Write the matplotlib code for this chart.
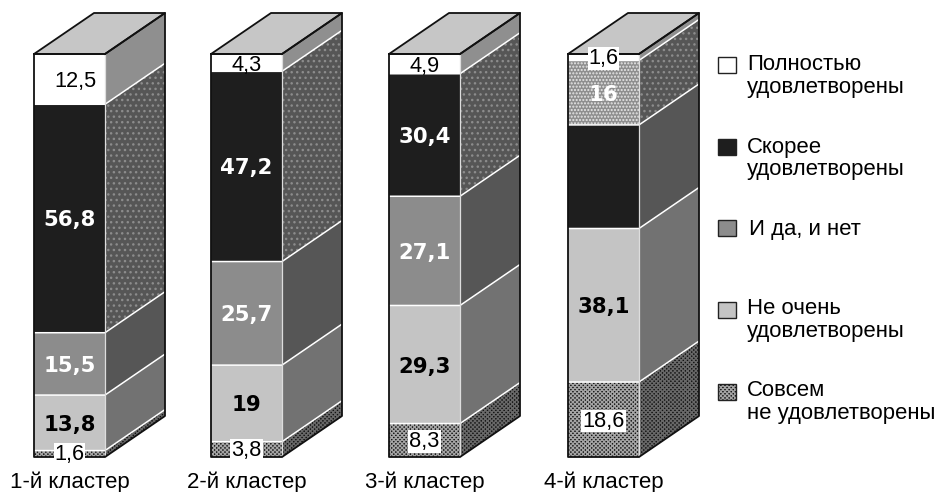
import matplotlib
matplotlib.use("Agg")
import matplotlib.pyplot as plt
from matplotlib.patches import Polygon, Rectangle

clusters = ["1-й кластер", "2-й кластер", "3-й кластер", "4-й кластер"]
categories = ["Полностью\nудовлетворены", "Скорее\nудовлетворены", "И да, и нет",
              "Не очень\nудовлетворены", "Совсем\nне удовлетворены"]
full = [12.5, 4.3, 4.9, 1.6]
mostly = [56.8, 47.2, 30.4, 16.0]
mixed = [15.5, 25.7, 27.1, 25.7]
notvery = [13.8, 19.0, 29.3, 38.1]
notatall = [1.6, 3.8, 8.3, 18.6]
series = [full, mostly, mixed, notvery, notatall]
labels = [["12,5", "4,3", "4,9", "1,6"],
          ["56,8", "47,2", "30,4", "16"],
          ["15,5", "25,7", "27,1", ""],
          ["13,8", "19", "29,3", "38,1"],
          ["1,6", "3,8", "8,3", "18,6"]]

W, H = 937, 492
PX = 4.03
fig = plt.figure(figsize=(W / 100, H / 100), dpi=100)
ax = fig.add_axes([0, 0, 1, 1])
ax.set_xlim(0, W)
ax.set_ylim(-(H - 457) / PX, 100 + 54 / PX)
ax.axis("off")
plt.rcParams["font.family"] = ["Liberation Sans"]
plt.rcParams["hatch.linewidth"] = 1.0

lefts = [34, 211, 389, 568]
bw = 71
dx, dy = 60, 41 / PX

front_style = {0: dict(fc="white"), 1: dict(fc="#1e1e1e"), 2: dict(fc="#8c8c8c"),
               3: dict(fc="#c4c4c4"),
               4: dict(fc="#141414", ec="#a4a4a4", hatch="xxxxxxxx")}
dotted_front = dict(fc="#8e8e8e", ec="#e8e8e8", hatch=".....")
side_style = {0: dict(fc="#8f8f8f"), 1: dict(fc="#565656", ec="#8c8c8c", hatch="..."),
              2: dict(fc="#565656"), 3: dict(fc="#727272"),
              4: dict(fc="#141414", ec="#686868", hatch="xxxxxxxx")}
txt_style = {0: ("black", "normal"), 1: ("white", "bold"), 2: ("white", "bold"),
             3: ("black", "bold"), 4: ("black", "normal")}

def patch(artist, z):
    artist.set_zorder(z)
    ax.add_patch(artist)

def styled(s):
    d = dict(facecolor=s["fc"], lw=0)
    if "hatch" in s:
        d.update(hatch=s["hatch"], edgecolor=s["ec"])
    else:
        d.update(edgecolor=s["fc"])
    return d

for b, x in enumerate(lefts):
    vals = [s[b] for s in series]
    tot = sum(vals)
    top = 100.0
    for k, v in enumerate(vals):
        h = v * 100 / tot
        y0 = top - h
        fs = front_style[k]
        ss = side_style[k]
        if b == 3 and k == 1:
            fs = dotted_front
        if b == 3 and k == 2:
            fs = front_style[1]
        patch(Rectangle((x, y0), bw, h, **styled(fs)), 2)
        patch(Polygon([(x + bw, y0), (x + bw + dx, y0 + dy), (x + bw + dx, top + dy), (x + bw, top)],
                      closed=True, **styled(ss)), 2)
        if k > 0:
            ax.plot([x, x + bw, x + bw + dx], [top, top, top + dy], color="white", lw=1.1, zorder=3,
                    solid_capstyle="butt")
        if labels[k][b]:
            col, wt = txt_style[k]
            bold = wt == "bold"
            boxed = k == 4 or (k == 0 and b == 3)
            yc = (y0 + top) / 2
            if k == 4:
                yc += 0.25
            if k == 4 and b == 0:
                yc = y0 + 1.3
            if k == 0 and b == 3:
                yc = y0 + 1.1
            bbox = dict(fc="white", ec="none", pad=0.6) if boxed else None
            tx = x + bw / 2 + (6 if k == 0 and b == 0 else 0)
            ax.text(tx, yc, labels[k][b], ha="center", va="center_baseline", color=col, weight=wt,
                    family="DejaVu Sans" if bold else "Liberation Sans",
                    fontsize=15.3 if bold else 15.7, bbox=bbox, zorder=6)
        top = y0
    # top face and outline
    patch(Polygon([(x, 100), (x + dx, 100 + dy), (x + bw + dx, 100 + dy), (x + bw, 100)], closed=True,
                  facecolor="#c6c6c6", edgecolor="#111111", lw=1.3, joinstyle="round"), 4)
    ax.plot([x + bw, x + bw], [0, 100], color="#dddddd", lw=0.9, zorder=3)
    ax.plot([x, x, x + bw, x + bw + dx, x + bw + dx, x + bw],
            [100, 0, 0, dy, 100 + dy, 100], color="#111111", lw=1.3, zorder=5)
    ax.plot([x, x + bw], [100, 100], color="#111111", lw=1.3, zorder=5)
    ax.text(x + 35.5, -(482 - 457) / PX, clusters[b], ha="center", va="center", fontsize=16, color="black")

# Legend
swatch_y = [65, 147, 228, 310, 392]
line1_y = [65, 147, 230, 309, 391]
text_x = [747, 747, 749, 747, 747]
line_gap = 23
for k, cat in enumerate(categories):
    yd = (457 - swatch_y[k]) / PX
    s = front_style[k]
    if "hatch" in s:
        ax.add_patch(Rectangle((718, yd - 8 / PX), 18, 16 / PX, facecolor=s["fc"], edgecolor=s["ec"],
                               hatch=s["hatch"], lw=0))
    ax.add_patch(Rectangle((718, yd - 8 / PX), 18, 16 / PX,
                           facecolor="none" if "hatch" in s else s["fc"],
                           edgecolor="#222222", lw=1.0))
    lines = cat.split("\n")
    for j, line in enumerate(lines):
        ax.text(text_x[k], (457 - line1_y[k] - j * line_gap) / PX, line, ha="left", va="center",
                fontsize=15.9)

fig.savefig("out.png", dpi=100, facecolor="white")
